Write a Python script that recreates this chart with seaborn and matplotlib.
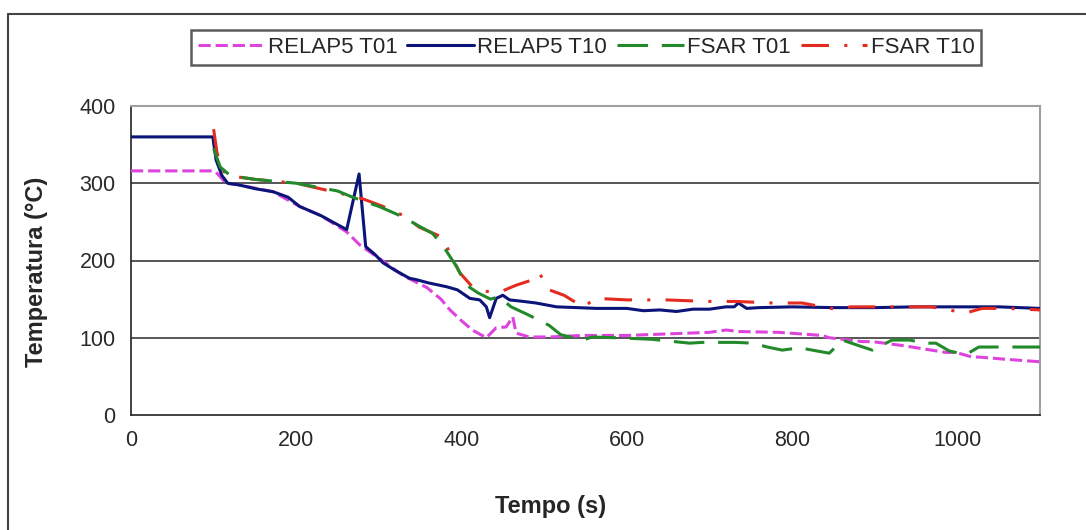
import numpy as np
import pandas as pd
import matplotlib
matplotlib.use("Agg")
import matplotlib.pyplot as plt
from matplotlib.lines import Line2D
import seaborn as sns

# ---------------- data ----------------
series_labels = ["RELAP5 T01", "RELAP5 T10", "FSAR T01", "FSAR T10"]

relap_t01_t = [0, 100, 105, 115, 130, 172, 204, 230, 261, 277, 300, 330, 358, 375, 386, 400, 413,
               430, 442, 454, 462, 466, 482, 506, 547, 600, 650, 700, 720, 737, 784, 836, 845,
               885, 897, 933, 945, 986, 998, 1018, 1026, 1060, 1099]
relap_t01_v = [316, 316, 312, 300, 298, 289, 270, 258, 237, 220, 203, 180, 165, 150, 136, 122, 110,
               100, 113, 114, 127, 106, 101, 101, 103, 103, 105, 107, 110, 108, 107, 103, 100,
               95, 95, 90, 88, 81, 81, 75, 75, 72, 69]

relap_t10_t = [0, 99, 103, 110, 117, 130, 150, 172, 190, 204, 230, 261, 276, 284, 295, 305, 320,
               337, 346, 360, 382, 395, 410, 422, 430, 434, 442, 450, 458, 475, 490, 515, 540,
               563, 600, 620, 640, 660, 680, 700, 720, 730, 735, 745, 760, 800, 850, 900, 950,
               1000, 1050, 1100]
relap_t10_v = [360, 360, 330, 310, 300, 298, 293, 289, 282, 270, 258, 240, 312, 218, 208, 197, 187,
               177, 175, 171, 166, 162, 151, 149, 140, 126, 151, 155, 149, 147, 145, 140, 139,
               138, 138, 135, 136, 134, 137, 137, 140, 140, 145, 138, 139, 140, 139, 139, 140,
               140, 140, 138]

fsar_t01_t = [100, 108, 120, 150, 200, 250, 268, 300, 330, 346, 365, 380, 394, 406, 420, 435, 445,
              460, 480, 506, 520, 547, 558, 587, 630, 676, 691, 732, 752, 770, 788, 809, 845,
              861, 880, 897, 921, 942, 962, 974, 990, 1010, 1026, 1067, 1100]
fsar_t01_v = [345, 321, 310, 305, 300, 290, 282, 270, 256, 246, 235, 215, 192, 168, 158, 150, 153,
              140, 130, 116, 104, 97, 101, 100, 98, 93, 94, 94, 93, 88, 84, 87, 80,
              97, 90, 84, 97, 97, 93, 93, 83, 78, 88, 88, 88]

fsar_t10_t = [100, 104, 110, 117, 130, 150, 200, 253, 280, 305, 330, 349, 377, 386, 398, 413, 434,
              446, 466, 486, 494, 506, 524, 547, 563, 600, 630, 648, 696, 732, 776, 812, 857,
              870, 909, 921, 969, 1010, 1030, 1060, 1100]
fsar_t10_v = [370, 340, 318, 310, 308, 305, 300, 287, 280, 270, 258, 243, 230, 209, 184, 166, 159,
              159, 168, 175, 184, 162, 155, 140, 151, 149, 149, 149, 147, 147, 145, 145, 136,
              140, 140, 140, 140, 132, 138, 138, 136]

x_ticks = [0, 200, 400, 600, 800, 1000]
y_ticks = [0, 100, 200, 300, 400]

# ---------------- style ----------------
sns.set_style("white")
plt.rcParams["font.family"] = ["Liberation Sans", "DejaVu Sans"]

colors = {"RELAP5 T01": "#dd44dd", "RELAP5 T10": "#0b1478",
          "FSAR T01": "#228a2a", "FSAR T10": "#e52b20"}
styles = {"RELAP5 T01": (0, (4, 1.6)), "RELAP5 T10": "-",
          "FSAR T01": (0, (10, 4.5)), "FSAR T10": (0, (9, 5, 1, 5))}
zorders = {"RELAP5 T01": 3, "RELAP5 T10": 4, "FSAR T01": 6, "FSAR T10": 5}
data = {"RELAP5 T01": (relap_t01_t, relap_t01_v), "RELAP5 T10": (relap_t10_t, relap_t10_v),
        "FSAR T01": (fsar_t01_t, fsar_t01_v), "FSAR T10": (fsar_t10_t, fsar_t10_v)}
LW = 2.2

W, H = 1086, 530
fig = plt.figure(figsize=(W / 100, H / 100), dpi=100)
fig.patch.set_facecolor("white")
ax = fig.add_axes([131 / W, 115 / H, 909 / W, 309 / H])

for name in series_labels:
    t, v = data[name]
    df = pd.DataFrame({"Tempo": t, "Temp": v})
    sns.lineplot(data=df, x="Tempo", y="Temp", ax=ax, color=colors[name], lw=LW,
                 linestyle=styles[name], estimator=None, sort=False, zorder=zorders[name],
                 legend=False)

ax.set_xlim(0, 1100)
ax.set_ylim(0, 400)
ax.set_xticks(x_ticks)
ax.set_yticks(y_ticks)
ax.set_xticklabels([str(v) for v in x_ticks])
ax.set_yticklabels([str(v) for v in y_ticks])
ax.tick_params(axis="both", labelsize=15.5, labelcolor="#2a2a2a", colors="#222222",
               direction="out", length=6, width=1.2, pad=5)

for yv in y_ticks[1:-1]:
    ax.axhline(yv, color="#3a3a3a", lw=1.2, zorder=1)

for s in ["left", "bottom"]:
    ax.spines[s].set_color("#222222")
    ax.spines[s].set_linewidth(1.2)
for s in ["top", "right"]:
    ax.spines[s].set_color("#a0a0a0")
    ax.spines[s].set_linewidth(1.5)

ax.set_xlabel("Tempo (s)", fontsize=17, fontweight="bold", va="center")
ax.set_ylabel("Temperatura (°C)", fontsize=17, fontweight="bold", va="center")
ax.xaxis.set_label_coords((551 - 131) / 909, (415 - 507) / 309)
ax.yaxis.set_label_coords((37 - 131) / 909, (415 - 272) / 309)

handles = [Line2D([], [], color=colors[n], lw=LW, linestyle=styles[n]) for n in series_labels]
leg = fig.legend(handles, series_labels, loc="center", bbox_to_anchor=(586 / W, 1 - 47.5 / H),
                 ncol=4, fontsize=16, frameon=True, fancybox=False, edgecolor="#333333",
                 handlelength=3.0, handletextpad=0.15, columnspacing=0.45, borderpad=0.3,
                 borderaxespad=0)
leg.get_frame().set_linewidth(1.8)

# outer chart-area frame (top and left edges visible)
fig.add_artist(Line2D([8 / W, 1], [1 - 14 / H, 1 - 14 / H], transform=fig.transFigure,
                      color="#444444", lw=1.5))
fig.add_artist(Line2D([8 / W, 8 / W], [0, 1 - 14 / H], transform=fig.transFigure,
                      color="#444444", lw=1.5))

fig.savefig("out.png", dpi=100, facecolor="white")
